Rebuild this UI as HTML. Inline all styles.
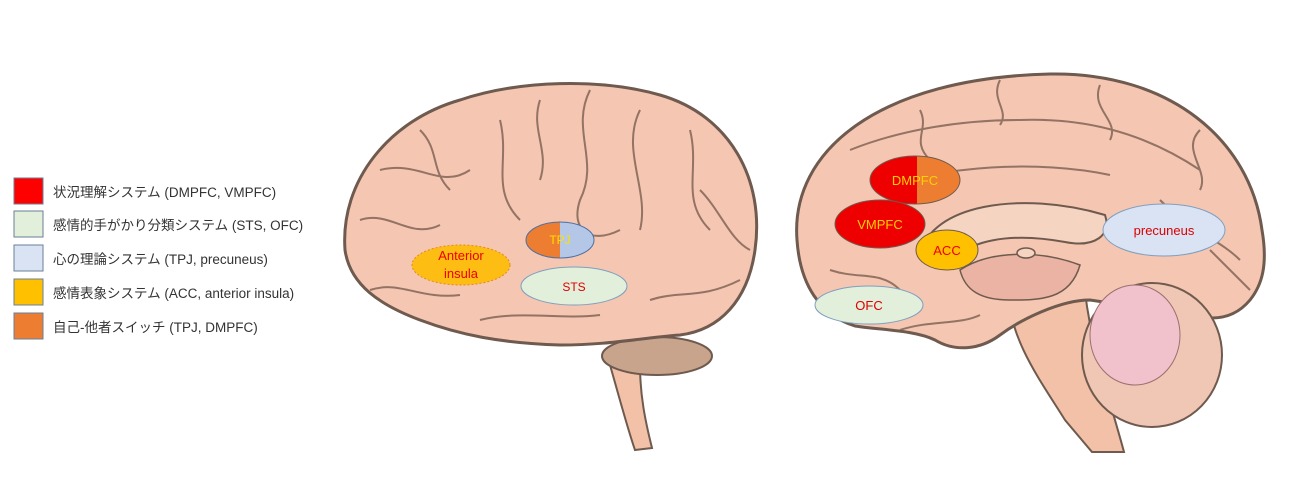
<!DOCTYPE html>
<html><head><meta charset="utf-8"><style>
body{margin:0;width:1298px;height:478px;background:#fff;overflow:hidden;font-family:"Liberation Sans","Noto Sans CJK JP",sans-serif}
</style></head><body>
<svg width="1298" height="478" viewBox="0 0 1298 478" xmlns="http://www.w3.org/2000/svg" font-family="Liberation Sans, Noto Sans CJK JP, sans-serif">
<!-- legend -->
<g stroke="#6a7f99" stroke-width="1">
<rect x="14" y="178" width="29" height="26" fill="#ff0000"/>
<rect x="14" y="211" width="29" height="26" fill="#e2efda"/>
<rect x="14" y="245" width="29" height="26" fill="#dae3f3"/>
<rect x="14" y="279" width="29" height="26" fill="#ffc000"/>
<rect x="14" y="313" width="29" height="26" fill="#ed7d31"/>
</g>
<g font-size="13.5" fill="#333">
<text x="53" y="197">状況理解システム (DMPFC, VMPFC)</text>
<text x="53" y="230">感情的手がかり分類システム (STS, OFC)</text>
<text x="53" y="264">心の理論システム (TPJ, precuneus)</text>
<text x="53" y="298">感情表象システム (ACC, anterior insula)</text>
<text x="53" y="332">自己-他者スイッチ (TPJ, DMPFC)</text>
</g>
<!-- left brain -->
<path d="M610 365 C620 400 628 430 635 450 L652 448 C645 420 640 395 640 365 Z" fill="#f3c1a8" stroke="#6e5a4e" stroke-width="2"/>
<ellipse cx="657" cy="356" rx="55" ry="19" fill="#c9a48c" stroke="#6e5a4e" stroke-width="2"/>
<path d="M345 250 C340 180 390 120 460 100 C520 80 600 78 660 95 C730 115 765 180 755 250 C748 300 720 330 680 335 C640 338 610 345 560 345 C500 343 460 335 420 320 C380 305 350 285 345 250 Z" fill="#f5c6b1" stroke="#6e5a4e" stroke-width="3"/>
<g fill="none" stroke="#7a5e50" stroke-width="2" opacity="0.8">
<path d="M380 170 C420 160 440 190 470 170 M360 220 C390 210 410 240 440 225 M370 290 C400 280 420 300 460 295 M590 90 C570 130 600 160 580 200 C570 230 590 245 620 230 M640 110 C620 150 650 190 640 230 M690 130 C700 170 680 200 710 230 M500 120 C510 160 490 190 520 220 M650 300 C680 290 700 300 740 280 M480 320 C520 310 560 320 600 315 M700 190 C720 210 730 240 750 250 M420 130 C440 150 430 170 450 190 M540 100 C530 130 550 150 540 180"/>
</g>
<!-- right brain -->
<path d="M1008 292 C1010 340 1040 380 1065 420 L1092 452 L1124 452 C1110 400 1092 350 1085 292 Z" fill="#f3c1a8" stroke="#6e5a4e" stroke-width="2"/>
<path d="M797 240 C790 150 880 78 1050 74 C1170 72 1250 140 1262 230 C1268 265 1262 285 1250 300 C1240 312 1228 318 1212 318 L1090 300 C1060 300 1020 320 1000 335 C980 350 955 352 935 340 C915 330 880 330 855 326 C820 315 800 285 797 240 Z" fill="#f5c6b1" stroke="#6e5a4e" stroke-width="3"/>
<ellipse cx="1152" cy="355" rx="70" ry="72" fill="#f0c6b4" stroke="#6e5a4e" stroke-width="2"/>
<ellipse cx="1135" cy="335" rx="45" ry="50" fill="#f2c2cc" stroke="#9a7070" stroke-width="1"/>
<path d="M920 255 C930 205 1020 190 1105 215 C1112 235 1095 248 1065 242 C1010 232 965 240 950 265 Z" fill="#f6d4c2" stroke="#6e5a4e" stroke-width="2"/>
<path d="M960 270 C990 250 1040 250 1080 265 C1070 300 1040 300 1010 300 C980 300 965 290 960 270 Z" fill="#eab3a3" stroke="#6e5a4e" stroke-width="1.5"/>
<ellipse cx="1026" cy="253" rx="9" ry="5" fill="#f6d4c2" stroke="#6e5a4e" stroke-width="1.5"/>
<g fill="none" stroke="#7a5e50" stroke-width="2" opacity="0.8">
<path d="M850 150 C900 130 960 120 1020 120 C1080 118 1140 130 1200 170 M880 190 C940 165 1040 160 1110 175 M1000 80 C990 100 1010 110 1000 125 M1100 85 C1090 110 1120 120 1110 140 M1200 130 C1180 150 1210 170 1200 190 M830 270 C860 280 880 270 900 290 M1210 250 C1230 270 1240 280 1250 290 M900 330 C930 320 960 325 980 315 M920 110 C930 130 910 140 930 160 M1160 200 C1190 230 1220 240 1240 260"/>
</g>
<!-- regions left -->
<ellipse cx="461" cy="265" rx="49" ry="20" fill="#fdbd12" stroke="#e08a20" stroke-width="1" stroke-dasharray="2 2"/>
<text x="461" y="260" font-size="13" fill="#e00" text-anchor="middle">Anterior</text>
<text x="461" y="278" font-size="13" fill="#e00" text-anchor="middle">insula</text>
<clipPath id="t"><ellipse cx="560" cy="240" rx="34" ry="18"/></clipPath>
<g clip-path="url(#t)"><rect x="520" y="220" width="40" height="40" fill="#ed7d31"/><rect x="560" y="220" width="40" height="40" fill="#b4c7e7"/></g>
<ellipse cx="560" cy="240" rx="34" ry="18" fill="none" stroke="#4a6fa5" stroke-width="1"/>
<text x="560" y="244" font-size="12" fill="#ffe000" text-anchor="middle">TPJ</text>
<ellipse cx="574" cy="286" rx="53" ry="19" fill="#e2efda" stroke="#7f9fbf" stroke-width="1"/>
<text x="574" y="291" font-size="12" fill="#d00" text-anchor="middle">STS</text>
<!-- regions right -->
<clipPath id="d"><ellipse cx="915" cy="180" rx="45" ry="24"/></clipPath>
<g clip-path="url(#d)"><rect x="865" y="150" width="52" height="60" fill="#ee0000"/><rect x="917" y="150" width="50" height="60" fill="#ed7d31"/></g>
<ellipse cx="915" cy="180" rx="45" ry="24" fill="none" stroke="#6e5a4e" stroke-width="1"/>
<text x="915" y="185" font-size="13" fill="#ffd000" text-anchor="middle">DMPFC</text>
<ellipse cx="880" cy="224" rx="45" ry="24" fill="#ee0000" stroke="#6e5a4e" stroke-width="1"/>
<text x="880" y="229" font-size="13" fill="#ffd000" text-anchor="middle">VMPFC</text>
<ellipse cx="947" cy="250" rx="31" ry="20" fill="#ffc000" stroke="#6e5a4e" stroke-width="1"/>
<text x="947" y="255" font-size="13" fill="#e00" text-anchor="middle">ACC</text>
<ellipse cx="1164" cy="230" rx="61" ry="26" fill="#dae3f3" stroke="#7f9fbf" stroke-width="1"/>
<text x="1164" y="235" font-size="13" fill="#d00" text-anchor="middle">precuneus</text>
<ellipse cx="869" cy="305" rx="54" ry="19" fill="#e2efda" stroke="#7f9fbf" stroke-width="1"/>
<text x="869" y="310" font-size="13" fill="#d00" text-anchor="middle">OFC</text>
</svg>
</body></html>
